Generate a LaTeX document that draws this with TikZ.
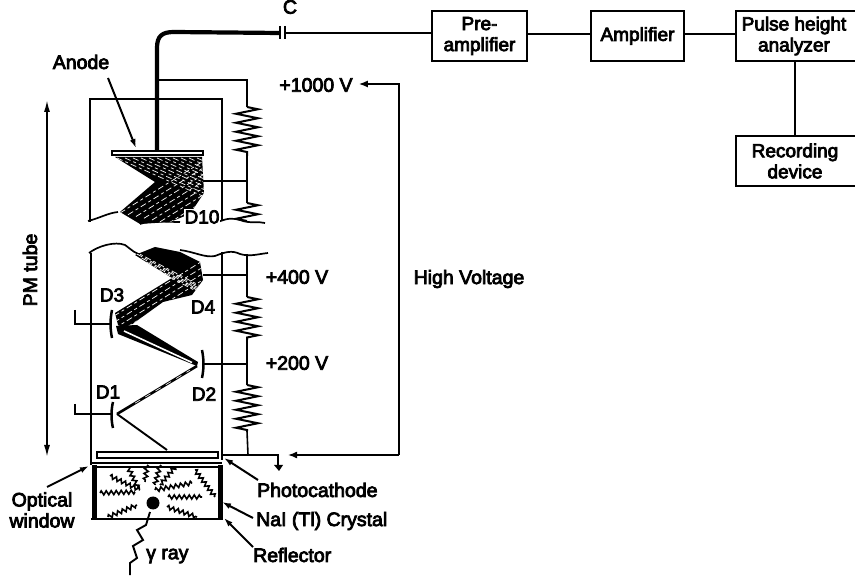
\documentclass[tikz,border=0pt]{standalone}
\usepackage{fontspec}
\setmainfont{Liberation Sans}[RawFeature={embolden=4}]
\usetikzlibrary{arrows.meta,decorations.pathmorphing,calc}
\tikzset{
  wire/.style={line width=1.6pt,black},
  heavy/.style={line width=2.8pt,black},
  cable/.style={line width=4.2pt,black},
  block/.style={draw=black,line width=1.7pt,minimum height=50pt,align=center,inner sep=0pt,font=\fontsize{19}{21}\selectfont},
  lab/.style={inner sep=0pt,align=center,font=\fontsize{19.5}{21}\selectfont},
  res/.style={line width=2pt,black,decorate,decoration={zigzag,amplitude=11pt,segment length=9pt}},
  tip/.style={-{Latex[length=9pt,width=6pt]},line width=2pt},
  wave/.style={line width=1.7pt,black},
  streak/.style={white,line width=0.7pt,dash pattern=on 6pt off 3pt on 3pt off 3pt},
  squig/.style={line width=1.6pt,decorate,decoration={zigzag,amplitude=2pt,segment length=5pt}}
}
\begin{document}
\begin{tikzpicture}[x=1pt,y=-1pt]
\useasboundingbox (0,0) rectangle (855,577);
% blocks
\node[block,minimum width=95pt] (pre) at (479.5,36) {Pre-\\amplifier};
\node[block,minimum width=93pt] (amp) at (637.5,36) {Amplifier};
\node[block,minimum width=124pt,anchor=west] (pha) at (735,36) {};
\node[lab,font=\fontsize{19}{21}\selectfont] (phatext) at (794,36) {Pulse height\\analyzer};
\node[block,minimum width=124pt,anchor=west] (rec) at (735,161) {};
\node[lab,font=\fontsize{19}{21}\selectfont] (rectext) at (795,161) {Recording\\device};
\draw[heavy] ($(pre.east)+(0,-2)$) -- ($(amp.west)+(0,-2)$);
\draw[heavy] ($(amp.east)+(0,-2)$) -- ($(pha.west)+(0,-2)$);
\draw[heavy] (795,61) -- (795,136);
% coupling capacitor and cable
\coordinate (capL) at (280,33);
\coordinate (capR) at (285,33);
\coordinate (anodeTop) at (157,151);
\coordinate (branch) at (157,80);
\draw[cable] (anodeTop) -- (157,48) .. controls (157,36) and (162,32) .. (174,32) -- (capL);
\draw[heavy] (capR) -- ($(pre.west)+(0,-3)$);
\draw[line width=2pt] (280,26) -- (280,39) (285,26) -- (285,39);
\node[lab] (c) at (290,7) {C};
% tube upper part
\draw[line width=2pt] (90,222) -- (90,99) -- (222,99) -- (222,221);
\draw[wave] (88,221) .. controls (100,218) and (108,213) .. (118,212) (140,224) .. controls (150,220) and (165,222) .. (180,222)
  (218,222) .. controls (228,218) and (232,218) .. (240,220) .. controls (250,224) and (258,221) .. (265,223);
% resistor chain
\coordinate (r0) at (247,80);
\coordinate (r1) at (247,107);
\coordinate (r2) at (247,156);
\coordinate (t10) at (247,181);
\coordinate (r3) at (247,203);
\draw[wire] (branch) -- (r0) -- (r1);
\draw[res] (r1) -- (r2);
\draw[wire] (r2) -- (r3);
\draw[res] (r3) -- (247,221);
% anode beams
\fill[black] (115,157) -- (202,157) -- (204,193) -- (190,214) -- (170,222) -- (140,224) -- (120,212) -- (155,182) -- cycle;
\begin{scope}
\clip (115,157) -- (202,157) -- (204,193) -- (190,214) -- (170,222) -- (140,224) -- (120,212) -- (155,182) -- cycle;
\foreach \d in {0,8,...,80} { \draw[streak] (117+\d,158) -- ++(90,40); }
\foreach \d in {0,8,...,64} { \draw[streak] (120+\d,213+\d*0.22) -- ++(90,-56); }
\end{scope}
% anode plate
\draw[line width=1.5pt,fill=white] (112,151) rectangle (203,155);
\draw[line width=1.8pt] (112,155.5) -- (203,155.5);
\node[lab] (anode) at (81,62) {Anode};
\coordinate (anodeTip) at (136,148);
\draw[tip] (108,78) -- (anodeTip);
\draw[heavy] (203,181) -- (t10);
\node[lab,font=\fontsize{19}{20}\selectfont,fill=white,inner sep=1pt] (d10) at (202,217) {D10};
% lower tube
\draw[line width=2.6pt] (91,253) -- (91,465);
\draw[line width=1.9pt] (222,252) -- (222,460);
\draw[wave] (89,253) .. controls (98,246) and (115,241) .. (125,245) .. controls (132,250) and (135,254) .. (143,255)
  (180,250) .. controls (195,252) and (205,258) .. (215,256) .. controls (225,252) and (232,250) .. (240,254) .. controls (250,257) and (258,254) .. (268,253);
% D3-D4 beams
\fill[black] (115,313) -- (172,278) -- (135,255) -- (155,247) -- (180,252) -- (200,262) -- (203,280) -- (192,295) -- (163,302) -- (120,333) -- cycle;
\begin{scope}
\clip (115,313) -- (172,278) -- (135,255) -- (155,247) -- (180,252) -- (200,262) -- (203,280) -- (192,295) -- (163,302) -- (120,333) -- cycle;
\foreach \d in {0,8,...,24} { \draw[streak] (114,316+\d*0.8) -- ++(90,-56); }
\foreach \d in {0,8,...,40} { \draw[streak] (132+\d*0.6,250+\d*0.5) -- ++(80,42); }
\end{scope}
% D3-D2 beams
\fill[black] (116,326) -- (137,325) -- (198,362) -- (197,366) -- (118,334) -- cycle;
\draw[white,line width=1.6pt] (124,331) -- (192,362.5);
% D1-D2 & D1-photocathode
\draw[line width=2.6pt] (117,414) -- (197,366);
\draw[white,line width=0.6pt,dash pattern=on 6pt off 6pt] (135,403.2) -- (190,370.2);
\draw[line width=1.9pt] (117,414) -- (167,450);
% dynode plates and leads
\draw[line width=2.5pt] (112,310) .. controls (110,320) and (110,328) .. (112,338);
\draw[line width=2.5pt] (202,350) .. controls (204,360) and (204,368) .. (202,378);
\draw[line width=2.5pt] (113,402) .. controls (111,410) and (111,420) .. (113,428);
\draw[heavy] (75,310) -- (75,324) -- (111,324);
\draw[heavy] (75,404) -- (75,414) -- (112,414);
\node[lab,font=\fontsize{19}{20}\selectfont] (d1) at (108,392) {D1};
\node[lab,font=\fontsize{19}{20}\selectfont] (d2) at (204,394) {D2};
\node[lab,font=\fontsize{19}{20}\selectfont] (d3) at (112,295) {D3};
\node[lab,font=\fontsize{19}{20}\selectfont] (d4) at (203,307) {D4};
% resistors lower
\coordinate (t4) at (247,275);
\coordinate (t2) at (247,364);
\coordinate (r4) at (247,297);
\coordinate (r5) at (247,340);
\coordinate (r6) at (247,385);
\coordinate (r7) at (247,431);
\coordinate (gndJ) at (248,455);
\draw[wire] (247,254) -- (t4) -- (r4);
\draw[res] (r4) -- (r5);
\draw[heavy] (203,275) -- (t4);
\draw[heavy] (203,364) -- (t2);
\draw[wire,line width=2pt] (r5) -- (t2) -- (r6);
\draw[res] (r6) -- (r7);
\draw[wire] (r7) -- (gndJ);
\node[lab] (v1000) at (316,85) {+1000 V};
\node[lab] (v400) at (297,277) {+400 V};
\node[lab] (v200) at (297,363) {+200 V};
% high voltage loop
\coordinate (hvTop) at (399,84);
\coordinate (hvBot) at (399,455);
\coordinate (gnd) at (278,455);
\draw[line width=2.4pt] (222,455) -- (gnd) -- (278,467);
\fill (274,465) -- (283,465) -- (279,471) -- cycle;
\draw[wire,-{Latex[length=9pt,width=7pt]}] (hvBot) -- (288,455);
\draw[wire,{Latex[length=9pt,width=7pt]}-] (v1000.east)++(6,-1) -- (hvTop) -- (hvBot);
\node[lab] (hv) at (469,279) {High Voltage};
% PM tube dimension
\node[lab,rotate=90] (pm) at (30,270) {PM tube};
\draw[wire,{Latex[length=12pt,width=6pt]}-{Latex[length=12pt,width=6pt]}] (47,100) -- (47,457);
% photocathode, window
\draw[line width=1.6pt,fill=white] (97,452) rectangle (218,458);
\draw[line width=1.3pt] (91,463) -- (222,463);
\draw[line width=2.2pt] (94,467) -- (222,467);
% crystal
\draw[line width=5pt] (94,465) -- (94,519) (220,465) -- (220,519);
\draw[line width=2.6pt] (91,519) -- (223,519);
\fill (153,503) circle (6.5pt);
\foreach \a/\b/\c/\d in {100/493/135/492, 108/517/137/505, 168/497/202/497, 167/507/197/517, 110/476/140/490, 128/467/138/488, 147/465/145/482, 160/465/155/485, 175/467/160/485, 155/490/192/483, 195/470/215/497} {
  \draw[squig] (\a,\b) -- (\c,\d);
}
\draw[line width=1.9pt] (150,512) -- (146,525) -- (137,530) -- (143,540) -- (133,546) -- (137,558) -- (130,563) -- (130,575);
\node[lab,anchor=west] (gamma) at (146,556) {γ ray};
% outside labels
\node[lab] (optical) at (42,510) {Optical\\window};
\node[lab,anchor=west] (photo) at (257,490) {Photocathode};
\node[lab,anchor=west] (nai) at (256,521) {NaI (Tl) Crystal};
\node[lab,anchor=west] (refl) at (253,555) {Reflector};
\coordinate (winTip) at (89,466);
\coordinate (photoTip) at (224,458);
\coordinate (naiTip) at (222,502);
\coordinate (reflTip) at (224,518);
\draw[tip] (47,487) -- (winTip);
\draw[tip] (258,480) -- (photoTip);
\draw[tip] (253,518) -- (naiTip);
\draw[tip] (253,547) -- (reflTip);
\end{tikzpicture}
\end{document}
